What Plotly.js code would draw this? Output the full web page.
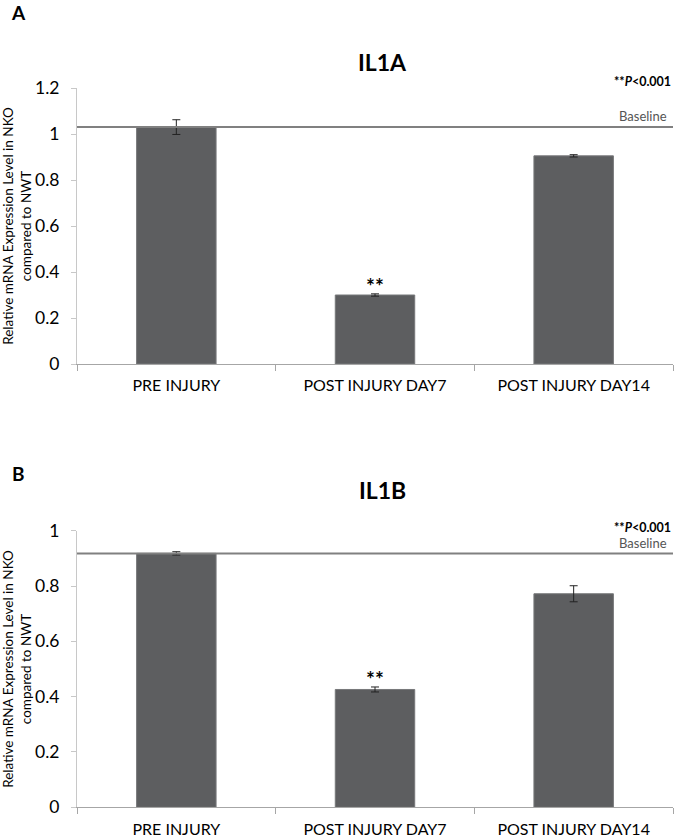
<!DOCTYPE html>
<html>
<head>
<meta charset="utf-8">
<script src="https://cdn.plot.ly/plotly-3.0.1.min.js"></script>
<style>html,body{margin:0;padding:0;background:#fff;}#chart{width:675px;height:837px;}</style>
</head>
<body>
<div id="chart"></div>
<script>
const categories = ['PRE INJURY', 'POST INJURY DAY7', 'POST INJURY DAY14'];
const il1aValues = [1.03, 0.30, 0.905];
const il1aErrors = [0.032, 0.005, 0.005];
const il1bValues = [0.918, 0.426, 0.772];
const il1bErrors = [0.006, 0.009, 0.029];
const baselines = [1.03, 0.918];
const panelTitles = ['IL1A', 'IL1B'];
const panelLetters = ['A', 'B'];
const yTickValsA = [0, 0.2, 0.4, 0.6, 0.8, 1, 1.2];
const yTickTextA = ['0', '0.2', '0.4', '0.6', '0.8', '1', '1.2'];
const yTickValsB = [0, 0.2, 0.4, 0.6, 0.8, 1];
const yTickTextB = ['0', '0.2', '0.4', '0.6', '0.8', '1'];
const sigIndex = 1;
const sigLabel = '**';
const pLabel = '**<i>P</i><0.001';
const baselineLabel = 'Baseline';
const yTitle = 'Relative mRNA Expression Level in NKO<br>compared to NWT';

const W = 675, H = 837;
const px = v => v / W;
const py = v => 1 - v / H;

const barColor = '#5d5e60';
const FONT = 'Lato, "Open Sans", sans-serif';

function barTrace(vals, errs, xa, ya) {
  return {
    type: 'bar', x: categories, y: vals, xaxis: xa, yaxis: ya,
    marker: {color: barColor, line: {color: '#77787a', width: 1}},
    error_y: {type: 'data', array: errs, visible: true, color: '#222', thickness: 1, width: 4},
    hoverinfo: 'skip', showlegend: false
  };
}

const data = [
  barTrace(il1aValues, il1aErrors, 'x', 'y'),
  barTrace(il1bValues, il1bErrors, 'x2', 'y2')
];

function xAxis(anchor) {
  return {
    domain: [px(77), px(673)], anchor: anchor, type: 'category',
    showline: true, linecolor: '#a6a6a6', linewidth: 1,
    ticks: 'outside', tickson: 'boundaries', ticklen: 6, tickcolor: '#a6a6a6',
    ticklabelstandoff: 7,
    showgrid: false, zeroline: false,
    tickfont: {family: FONT, size: 16, color: '#000'}, automargin: false
  };
}
function yAxis(anchor, domain, range, tv, tt) {
  return {
    domain: domain, anchor: anchor, range: range, fixedrange: true,
    tickvals: tv, ticktext: tt,
    showline: true, linecolor: '#c8c8c8', linewidth: 1,
    ticks: 'outside', ticklen: 5, tickcolor: '#c8c8c8',
    ticklabelstandoff: 8,
    showgrid: false, zeroline: false,
    tickfont: {family: FONT, size: 17.5, color: '#000'},
    title: {text: yTitle, font: {family: FONT, size: 13.5, color: '#000'}, standoff: 6},
    automargin: false
  };
}

const layout = {
  width: W, height: H,
  margin: {l: 0, r: 0, t: 0, b: 0},
  paper_bgcolor: '#fff', plot_bgcolor: '#fff',
  bargap: 0.6,
  xaxis: xAxis('y'),
  yaxis: yAxis('x', [py(364), py(88)], [0, 1.2], yTickValsA, yTickTextA),
  xaxis2: xAxis('y2'),
  yaxis2: yAxis('x2', [py(807.3), py(530.7)], [0, 1], yTickValsB, yTickTextB),
  shapes: [
    {type: 'line', xref: 'x domain', yref: 'y', x0: 0, x1: 1, y0: baselines[0], y1: baselines[0],
     line: {color: '#808080', width: 2}},
    {type: 'line', xref: 'x2 domain', yref: 'y2', x0: 0, x1: 1, y0: baselines[1], y1: baselines[1],
     line: {color: '#808080', width: 2}}
  ],
  annotations: [
    {text: '<b>' + panelLetters[0] + '</b>', xref: 'paper', yref: 'paper', x: px(9), y: py(12), xanchor: 'left', yanchor: 'middle', showarrow: false, font: {family: FONT, size: 19, color: '#000'}},
    {text: '<b>' + panelLetters[1] + '</b>', xref: 'paper', yref: 'paper', x: px(10), y: py(473), xanchor: 'left', yanchor: 'middle', showarrow: false, font: {family: FONT, size: 19, color: '#000'}},
    {text: '<b>' + panelTitles[0] + '</b>', xref: 'paper', yref: 'paper', x: px(383), y: py(62), xanchor: 'center', yanchor: 'middle', showarrow: false, font: {family: FONT, size: 23, color: '#000'}},
    {text: '<b>' + panelTitles[1] + '</b>', xref: 'paper', yref: 'paper', x: px(383), y: py(490), xanchor: 'center', yanchor: 'middle', showarrow: false, font: {family: FONT, size: 23, color: '#000'}},
    {text: '<b>' + pLabel + '</b>', xref: 'paper', yref: 'paper', x: px(673), y: py(82), xanchor: 'right', yanchor: 'middle', showarrow: false, font: {family: FONT, size: 12.5, color: '#000'}},
    {text: '<b>' + pLabel + '</b>', xref: 'paper', yref: 'paper', x: px(673), y: py(527), xanchor: 'right', yanchor: 'middle', showarrow: false, font: {family: FONT, size: 12.5, color: '#000'}},
    {text: baselineLabel, xref: 'paper', yref: 'paper', x: px(669), y: py(116), xanchor: 'right', yanchor: 'middle', showarrow: false, font: {family: FONT, size: 13, color: '#555'}},
    {text: baselineLabel, xref: 'paper', yref: 'paper', x: px(669), y: py(543), xanchor: 'right', yanchor: 'middle', showarrow: false, font: {family: FONT, size: 13, color: '#555'}},
    {text: '<b>' + sigLabel + '</b>', xref: 'x', yref: 'y', x: categories[sigIndex], y: il1aValues[sigIndex] + il1aErrors[sigIndex], xanchor: 'center', yanchor: 'bottom', yshift: -6, showarrow: false, font: {family: FONT, size: 21, color: '#000'}},
    {text: '<b>' + sigLabel + '</b>', xref: 'x2', yref: 'y2', x: categories[sigIndex], y: il1bValues[sigIndex] + il1bErrors[sigIndex], xanchor: 'center', yanchor: 'bottom', yshift: -6, showarrow: false, font: {family: FONT, size: 21, color: '#000'}}
  ]
};

Plotly.newPlot('chart', data, layout, {displayModeBar: false, staticPlot: true});
</script>
</body>
</html>
